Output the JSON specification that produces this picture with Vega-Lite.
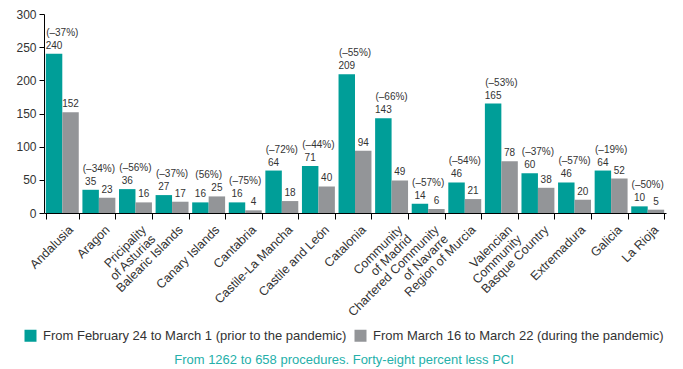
{
  "$schema": "https://vega.github.io/schema/vega-lite/v6.json",
  "autosize": "none",
  "width": 622,
  "height": 199,
  "padding": {"left": 44, "top": 14, "right": 17, "bottom": 156},
  "background": "white",
  "config": {
    "view": {"stroke": null},
    "font": "Liberation Sans",
    "text": {"font": "Liberation Sans"}
  },
  "title": {
    "text": "From 1262 to 658 procedures. Forty-eight percent less PCI",
    "orient": "bottom",
    "anchor": "middle",
    "fontSize": 13,
    "fontWeight": "normal",
    "color": "#25b0aa",
    "offset": 11,
    "dx": -11
  },
  "data": {
    "values": [
      {"region": "Andalusia", "period": "From February 24 to March 1 (prior to the pandemic)", "value": 240, "change": "(–37%)"},
      {"region": "Andalusia", "period": "From March 16 to March 22 (during the pandemic)", "value": 152, "change": "(–37%)"},
      {"region": "Aragon", "period": "From February 24 to March 1 (prior to the pandemic)", "value": 35, "change": "(–34%)"},
      {"region": "Aragon", "period": "From March 16 to March 22 (during the pandemic)", "value": 23, "change": "(–34%)"},
      {"region": "Pricipality|of Asturias", "period": "From February 24 to March 1 (prior to the pandemic)", "value": 36, "change": "(–56%)"},
      {"region": "Pricipality|of Asturias", "period": "From March 16 to March 22 (during the pandemic)", "value": 16, "change": "(–56%)"},
      {"region": "Balearic Islands", "period": "From February 24 to March 1 (prior to the pandemic)", "value": 27, "change": "(–37%)"},
      {"region": "Balearic Islands", "period": "From March 16 to March 22 (during the pandemic)", "value": 17, "change": "(–37%)"},
      {"region": "Canary Islands", "period": "From February 24 to March 1 (prior to the pandemic)", "value": 16, "change": "(56%)"},
      {"region": "Canary Islands", "period": "From March 16 to March 22 (during the pandemic)", "value": 25, "change": "(56%)"},
      {"region": "Cantabria", "period": "From February 24 to March 1 (prior to the pandemic)", "value": 16, "change": "(–75%)"},
      {"region": "Cantabria", "period": "From March 16 to March 22 (during the pandemic)", "value": 4, "change": "(–75%)"},
      {"region": "Castile-La Mancha", "period": "From February 24 to March 1 (prior to the pandemic)", "value": 64, "change": "(–72%)"},
      {"region": "Castile-La Mancha", "period": "From March 16 to March 22 (during the pandemic)", "value": 18, "change": "(–72%)"},
      {"region": "Castile and León", "period": "From February 24 to March 1 (prior to the pandemic)", "value": 71, "change": "(–44%)"},
      {"region": "Castile and León", "period": "From March 16 to March 22 (during the pandemic)", "value": 40, "change": "(–44%)"},
      {"region": "Catalonia", "period": "From February 24 to March 1 (prior to the pandemic)", "value": 209, "change": "(–55%)"},
      {"region": "Catalonia", "period": "From March 16 to March 22 (during the pandemic)", "value": 94, "change": "(–55%)"},
      {"region": "Community|of Madrid", "period": "From February 24 to March 1 (prior to the pandemic)", "value": 143, "change": "(–66%)"},
      {"region": "Community|of Madrid", "period": "From March 16 to March 22 (during the pandemic)", "value": 49, "change": "(–66%)"},
      {"region": "Chartered Community|of Navarre", "period": "From February 24 to March 1 (prior to the pandemic)", "value": 14, "change": "(–57%)"},
      {"region": "Chartered Community|of Navarre", "period": "From March 16 to March 22 (during the pandemic)", "value": 6, "change": "(–57%)"},
      {"region": "Region of Murcia", "period": "From February 24 to March 1 (prior to the pandemic)", "value": 46, "change": "(–54%)"},
      {"region": "Region of Murcia", "period": "From March 16 to March 22 (during the pandemic)", "value": 21, "change": "(–54%)"},
      {"region": "Valencian|Community", "period": "From February 24 to March 1 (prior to the pandemic)", "value": 165, "change": "(–53%)"},
      {"region": "Valencian|Community", "period": "From March 16 to March 22 (during the pandemic)", "value": 78, "change": "(–53%)"},
      {"region": "Basque Country", "period": "From February 24 to March 1 (prior to the pandemic)", "value": 60, "change": "(–37%)"},
      {"region": "Basque Country", "period": "From March 16 to March 22 (during the pandemic)", "value": 38, "change": "(–37%)"},
      {"region": "Extremadura", "period": "From February 24 to March 1 (prior to the pandemic)", "value": 46, "change": "(–57%)"},
      {"region": "Extremadura", "period": "From March 16 to March 22 (during the pandemic)", "value": 20, "change": "(–57%)"},
      {"region": "Galicia", "period": "From February 24 to March 1 (prior to the pandemic)", "value": 64, "change": "(–19%)"},
      {"region": "Galicia", "period": "From March 16 to March 22 (during the pandemic)", "value": 52, "change": "(–19%)"},
      {"region": "La Rioja", "period": "From February 24 to March 1 (prior to the pandemic)", "value": 10, "change": "(–50%)"},
      {"region": "La Rioja", "period": "From March 16 to March 22 (during the pandemic)", "value": 5, "change": "(–50%)"}
    ]
  },
  "encoding": {
    "x": {
      "field": "region",
      "type": "nominal",
      "sort": null,
      "scale": {"paddingInner": 0.1, "paddingOuter": 0.05},
      "axis": {
        "title": null,
        "labelExpr": "split(datum.label, '|')",
        "labelAngle": -45,
        "labelAlign": "right",
        "labelBaseline": "top",
        "labelFontSize": 12.5,
        "labelColor": "#333333",
        "labelPadding": 4,
        "labelOffset": 4,
        "labelLimit": 300,
        "labelLineHeight": 13,
        "tickBand": "extent",
        "tickSize": 6,
        "tickColor": "#000000",
        "domainColor": "#000000",
        "labelOverlap": false
      }
    },
    "y": {
      "field": "value",
      "type": "quantitative",
      "scale": {"domain": [0, 300]},
      "axis": {
        "title": null,
        "values": [0, 50, 100, 150, 200, 250, 300],
        "grid": false,
        "labelOverlap": false,
        "labelFontSize": 12,
        "labelColor": "#333333",
        "labelPadding": 3,
        "tickSize": 5,
        "tickColor": "#000000",
        "domainColor": "#000000"
      }
    }
  },
  "layer": [
    {
      "mark": {"type": "bar"},
      "encoding": {
        "xOffset": {"field": "period", "type": "nominal", "sort": null},
        "color": {
          "field": "period",
          "type": "nominal",
          "sort": null,
          "scale": {"range": ["#009e98", "#939598"]},
          "legend": {
            "title": null,
            "orient": "none",
            "direction": "horizontal",
            "legendX": -20,
            "legendY": 315,
            "padding": 0,
            "symbolType": "square",
            "symbolSize": 144,
            "symbolStrokeWidth": 0,
            "symbolOpacity": 1,
            "labelFontSize": 13,
            "labelColor": "#333333",
            "labelOffset": 6,
            "labelLimit": 400,
            "columnPadding": 7
          }
        }
      }
    },
    {
      "mark": {"type": "text", "fontSize": 10, "color": "#333333", "baseline": "alphabetic", "dy": -5},
      "encoding": {
        "xOffset": {"field": "period", "type": "nominal", "sort": null},
        "text": {"field": "value", "type": "quantitative"}
      }
    },
    {
      "transform": [
        {"joinaggregate": [{"op": "max", "field": "value", "as": "top"}], "groupby": ["region"]},
        {"filter": "datum.period === 'From February 24 to March 1 (prior to the pandemic)'"}
      ],
      "mark": {"type": "text", "fontSize": 10, "color": "#333333", "baseline": "alphabetic", "dy": -18},
      "encoding": {
        "y": {"field": "top", "type": "quantitative"},
        "text": {"field": "change", "type": "nominal"}
      }
    }
  ]
}
